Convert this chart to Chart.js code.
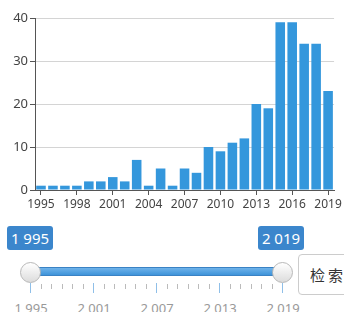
<!DOCTYPE html>
<html>
<head>
<meta charset="utf-8">
<script src="https://cdn.jsdelivr.net/npm/chart.js@4"></script>
<style>
  html, body { margin: 0; padding: 0; background: #fff; }
  body { width: 344px; height: 312px; position: relative; overflow: hidden; font-family: "Noto Sans", sans-serif; }
  #chartBox { position: absolute; left: 0; top: 0; width: 344px; height: 220px; }
  .badge { position: absolute; top: 226px; height: 24px; line-height: 24px; background: #3b86cc; color: #fff;
           font-size: 15px; border-radius: 3px; text-align: center; }
  #track { position: absolute; left: 30px; top: 267px; width: 252px; height: 9px; border-radius: 5px;
           background: linear-gradient(#6fb3ea, #3e93d9); border: 1px solid #3a82c4; box-sizing: border-box; }
  .knob { position: absolute; top: 262px; width: 21px; height: 21px; border-radius: 50%; box-sizing: border-box;
          border: 1px solid #b8b8b8; background: linear-gradient(#ffffff, #dcdcdc); }
  .tick { position: absolute; width: 1px; }
  .tlabel { position: absolute; top: 299px; width: 50px; margin-left: -25px; text-align: center; color: #999; font-size: 13px; }
  #btn { position: absolute; left: 298px; top: 254px; width: 60px; height: 41px; border: 1px solid #ccc; border-radius: 4px;
         box-sizing: border-box; background: #fff; font-family: "Noto Sans CJK SC", sans-serif; font-size: 15px;
         line-height: 39px; padding-left: 11px; color: #333; letter-spacing: 3px; }
</style>
</head>
<body>
<div id="chartBox"><canvas id="yearChart"></canvas></div>
<div id="slider"></div>
<div id="btn">检索</div>
<script>
const years = ['1995','1996','1997','1998','1999','2000','2001','2002','2003','2004','2005','2006','2007',
               '2008','2009','2010','2011','2012','2013','2014','2015','2016','2017','2018','2019'];
const counts = [1, 1, 1, 1, 2, 2, 3, 2, 7, 1, 5, 1, 5, 4, 10, 9, 11, 12, 20, 19, 39, 39, 34, 34, 23];
const yTicks = [0, 10, 20, 30, 40];
const sliderLabels = ['1 995', '2 001', '2 007', '2 013', '2 019'];

function yearChart() {
  const ctx = document.getElementById('yearChart');

  new Chart(ctx, {
    type: 'bar',
    data: {
      labels: years,
      datasets: [{
        data: counts,
        backgroundColor: '#3497dc',
        borderWidth: 0,
        categoryPercentage: 1,
        barPercentage: 0.8
      }]
    },
    options: {
      responsive: true,
      maintainAspectRatio: false,
      animation: false,
      layout: { padding: { top: 18, right: 9, left: 0, bottom: 0 } },
      plugins: { legend: { display: false }, tooltip: { enabled: false } },
      scales: {
        x: {
          offset: true,
          grid: {
            offset: false,
            drawOnChartArea: false,
            tickLength: 5,
            tickColor: c => (c.index % 3 === 0 ? '#555' : 'rgba(0,0,0,0)')
          },
          border: { color: '#555' },
          ticks: {
            autoSkip: false,
            maxRotation: 0,
            padding: 2,
            color: '#444',
            font: { family: 'Noto Sans', size: 12 },
            callback: (v, i) => (i % 3 === 0 ? years[i] : '')
          },
          afterFit: s => { s.height = 30; }
        },
        y: {
          min: yTicks[0],
          max: yTicks[yTicks.length - 1],
          afterBuildTicks: s => { s.ticks = yTicks.map(v => ({ value: v })); },
          grid: { color: '#d4d4d4', tickColor: '#555', tickLength: 5 },
          border: { color: '#555' },
          ticks: { padding: 2, color: '#444', font: { family: 'Noto Sans', size: 13 } },
          afterFit: s => { s.width = 35; }
        }
      }
    }
  });
}

function buildSlider() {
  const box = document.getElementById('slider');
  const left = 30, right = 282;
  const step = (right - left) / (years.length - 1);
  let html = '';
  html += '<div class="badge" style="left:7px;width:46px">' + sliderLabels[0] + '</div>';
  html += '<div class="badge" style="left:258px;width:46px">' + sliderLabels[sliderLabels.length - 1] + '</div>';
  years.forEach((y, i) => {
    const x = Math.round(left + i * step);
    if (i % 6 === 0) {
      html += '<div class="tick" style="left:' + x + 'px;top:283px;height:10px;background:#8fbfe8"></div>';
      html += '<div class="tlabel" style="left:' + (x + 1) + 'px">' + sliderLabels[i / 6] + '</div>';
    } else {
      html += '<div class="tick" style="left:' + x + 'px;top:284px;height:5px;background:#bbb"></div>';
    }
  });
  html += '<div id="track"></div>';
  html += '<div class="knob" style="left:' + (left - 10) + 'px"></div>';
  html += '<div class="knob" style="left:' + (right - 10) + 'px"></div>';
  box.innerHTML = html;
}

buildSlider();
yearChart();
</script>
</body>
</html>
